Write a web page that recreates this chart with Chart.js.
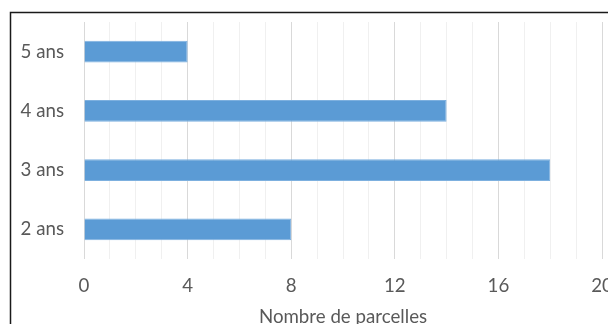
<!DOCTYPE html>
<html>
<head>
<meta charset="utf-8">
<script src="https://cdn.jsdelivr.net/npm/chart.js@4"></script>
<style>
  html, body { margin: 0; padding: 0; background: #fff; overflow: hidden; width: 608px; height: 324px; }
  #wrap { position: absolute; left: 0; top: 0; width: 640px; height: 340px; }
</style>
</head>
<body>
<div id="wrap"><canvas id="chart" width="640" height="340"></canvas></div>
<script>
// data
const categories = ['2 ans', '3 ans', '4 ans', '5 ans'];
const parcelles = [8, 18, 14, 4];
const xTitle = 'Nombre de parcelles';

// frame around the chart (only top and left edges show in the crop)
const framePlugin = {
    id: 'frame',
    afterDraw(chart) {
        const ctx = chart.ctx;
        ctx.save();
        ctx.strokeStyle = '#1a1a1a';
        ctx.lineWidth = 1.5;
        ctx.beginPath();
        ctx.moveTo(10.5, 400);
        ctx.lineTo(10.5, 12.5);
        ctx.lineTo(700, 12.5);
        ctx.stroke();
        ctx.restore();
    }
};

const ctx = document.getElementById('chart').getContext('2d');
new Chart(ctx, {
    type: 'bar',
    data: {
        labels: categories,
        datasets: [{
            label: 'Parcelles',
            data: parcelles,
            backgroundColor: '#5B9BD5',
            borderColor: '#7DB0DF',
            borderWidth: 1,
            categoryPercentage: 1,
            barPercentage: 0.365
        }]
    },
    options: {
        indexAxis: 'y',
        responsive: false,
        animation: false,
        events: [],
        layout: {
            padding: { top: 22, right: 38, bottom: 0, left: 0 }
        },
        plugins: {
            legend: { display: false },
            tooltip: { enabled: false }
        },
        scales: {
            x: {
                min: 0,
                max: 20,
                border: { display: false },
                grid: {
                    drawTicks: false,
                    color: c => (c.tick && c.tick.value % 4 === 0) ? '#D9D9D9' : '#F0F0F0',
                    lineWidth: 1
                },
                ticks: {
                    stepSize: 1,
                    autoSkip: false,
                    maxRotation: 0,
                    padding: 16,
                    color: '#595959',
                    font: { family: 'Lato', size: 18.7 },
                    callback: v => (v % 4 === 0 ? v : '')
                },
                title: {
                    display: true,
                    text: xTitle,
                    color: '#595959',
                    font: { family: 'Lato', size: 18.7 },
                    padding: { top: 0, bottom: 12 }
                },
                afterFit: s => { s.height = 81; }
            },
            y: {
                reverse: true,
                border: { display: false },
                grid: { display: false, drawTicks: false },
                ticks: {
                    padding: 20,
                    color: '#595959',
                    font: { family: 'Lato', size: 18.7 }
                },
                afterFit: s => {
                    s.width = 84;
                    s.paddingTop = 0;
                    s.paddingBottom = 0;
                }
            }
        }
    },
    plugins: [framePlugin]
});
</script>
</body>
</html>
